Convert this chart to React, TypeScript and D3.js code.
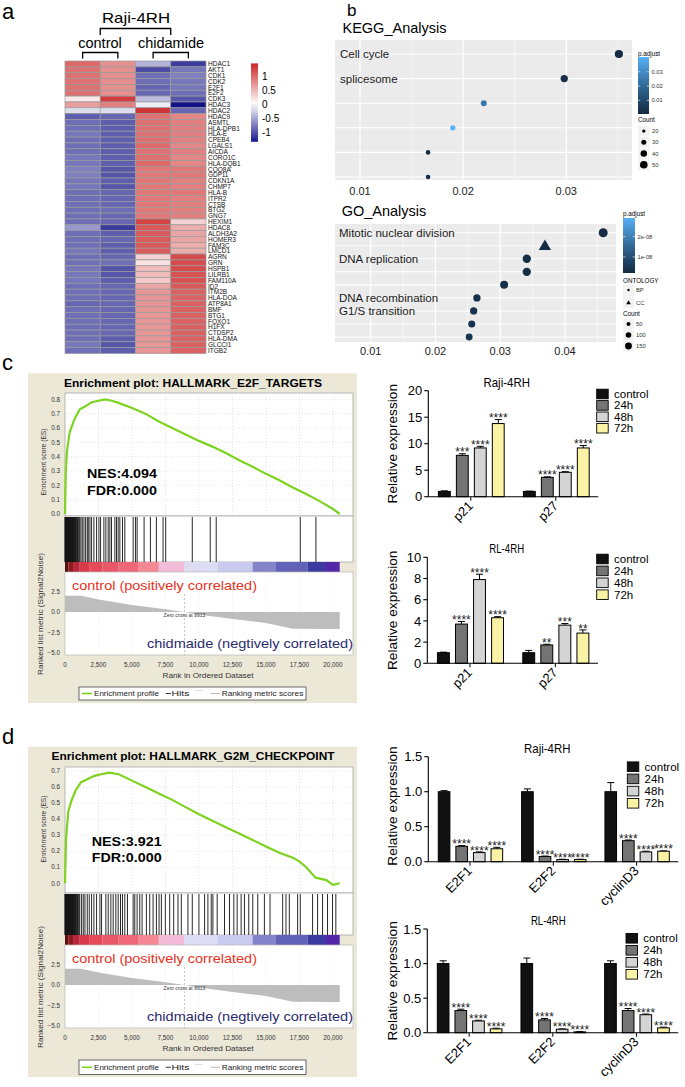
import * as d3 from "d3";

const FONT = "'Liberation Sans', Arial, Helvetica, sans-serif";
const W = 685;
const H = 1087;

// ---------- a: heatmap ----------
const genes = ["HDAC1","AKT1","CDK1","CDK2","E2F1","E2F2","CDK3","HDAC3","HDAC2","HDAC9","ASMTL","HLA-DPB1","HLA-E","CPEB4","LGALS1","AICDA","CORO1C","HLA-DQB1","COQ8A","GDF11","CDKN1A","CHMP7","HLA-B","ITPR2","CTSB","BTG2","GNG7","HEXIM1","HDAC8","ALDH3A2","HOMER3","FAM3C","LMCD1","AGRN","GRN","HSPB1","LILRB1","FAM110A","ID2","ITM2B","HLA-DOA","ATP8A1","BMF","BTG1","FOXO1","H1FX","CTDSP2","HLA-DMA","GLCCI1","ITGB2"];
const ctrl1 = [1.0,0.95,0.95,0.95,0.95,0.95,0.15,0.65,-0.2,-0.95,-0.85,-0.85,-0.8,-0.85,-0.85,-0.85,-0.8,-0.8,-0.75,-0.75,-0.8,-0.8,-0.85,-0.85,-0.85,-0.85,-0.85,-0.85,-0.6,-0.85,-0.85,-0.85,-0.8,-0.85,-0.85,-0.8,-0.8,-0.8,-0.85,-0.85,-0.85,-0.9,-0.85,-0.85,-0.85,-0.85,-0.85,-0.85,-0.8,-0.85];
const ctrl2 = [0.75,0.75,0.75,0.75,0.75,0.75,1.3,0.85,-0.2,-0.9,-0.95,-0.95,-0.95,-0.95,-0.95,-0.95,-0.95,-0.95,-1.0,-1.0,-0.95,-1.0,-0.9,-0.9,-0.9,-0.85,-0.9,-0.9,-1.15,-0.95,-0.9,-0.95,-0.95,-0.9,-0.85,-1.0,-1.0,-0.95,-0.9,-0.9,-0.9,-0.9,-0.9,-0.9,-0.9,-0.9,-0.9,-0.95,-1.0,-0.95];
const chid1 = [-0.45,-1.05,-0.85,-0.85,-0.9,-0.9,-0.4,-0.1,1.35,0.95,0.95,0.95,0.95,0.95,1.0,0.95,0.95,1.0,0.9,0.9,0.9,0.9,0.9,0.9,0.9,0.9,0.9,1.25,1.1,1.1,1.1,1.1,1.1,0.3,0.2,0.45,0.45,0.35,0.6,0.7,0.7,0.7,0.7,0.7,0.7,0.7,0.7,0.7,0.7,0.7];
const chid2 = [-1.15,-0.8,-0.75,-0.8,-0.8,-0.85,-1.0,-1.4,-0.9,0.8,0.85,0.85,0.85,0.85,0.8,0.85,0.8,0.8,0.9,0.9,0.85,0.85,0.9,0.85,0.85,0.85,0.85,0.3,0.55,0.6,0.6,0.55,0.55,1.2,1.2,1.2,1.15,1.15,1.1,1.05,1.05,1.05,1.05,1.05,1.05,1.05,1.05,1.05,1.05,1.05];
const heatTicks = [1, 0.5, 0, -0.5, -1];

// ---------- b: enrichment dot plots ----------
const keggTerms = ["Cell cycle", "splicesome", "", "", "", ""];
const keggRatio = [0.0351, 0.0298, 0.022, 0.019, 0.0166, 0.0166];
const keggPadj = [0.0005, 0.0022, 0.0245, 0.0403, 0.0009, 0.0009];
const keggCount = [55, 47, 36, 31, 27, 27];
const keggCountKeys = [20, 30, 40, 50];
const keggPadjTicks = [0.01, 0.02, 0.03];

const goTerms = ["Mitotic nuclear division", "", "DNA replication", "", "", "DNA recombination", "G1/S transition", "", ""];
const goOntology = ["BP", "CC", "BP", "BP", "BP", "BP", "BP", "BP", "BP"];
const goRatio = [0.0459, 0.0369, 0.0341, 0.0341, 0.0306, 0.0264, 0.0259, 0.0256, 0.0252];
const goPadj = [2.1e-9, 2.3e-9, 2.5e-9, 2.7e-9, 3e-9, 3.3e-9, 3.6e-9, 3.9e-9, 4.2e-9];
const goCount = [258, 200, 220, 220, 204, 170, 168, 160, 150];
const goCountKeys = [50, 100, 150];
const goPadjLimits = [2.1e-9, 2.92e-8];
const goPadjTicks = [1e-8, 2e-8];
const goPadjTickLabels = ["1e-08", "2e-08"];

// ---------- c/d: GSEA ----------
const gseaTicks = [0, 2500, 5000, 7500, 10000, 12500, 15000, 17500, 20000];
const metricTicks = [2.5, 0, -2.5, -5];
const esRankC = [0,60,150,350,700,1100,1500,2000,2500,3000,3500,4000,5000,6000,7000,8000,9000,10000,11000,12000,13000,14000,15000,16000,17000,18000,19000,20000,20500];
const esC = [0,0.3,0.44,0.57,0.66,0.73,0.75,0.78,0.79,0.8,0.79,0.775,0.74,0.7,0.645,0.6,0.555,0.51,0.47,0.425,0.375,0.33,0.28,0.235,0.185,0.14,0.09,0.035,0];
const esRankD = [0,80,250,500,800,1200,1700,2200,2700,3300,4000,5000,6000,7000,8000,9000,10000,11000,12000,13000,14000,15000,16000,17000,17500,18000,18700,19500,20000,20500];
const esD = [0,0.28,0.45,0.52,0.58,0.63,0.65,0.67,0.68,0.69,0.68,0.64,0.6,0.56,0.52,0.475,0.43,0.39,0.35,0.31,0.27,0.23,0.19,0.16,0.135,0.1,0.035,0.02,-0.01,0];
const hitsDense = [0,20,45,70,95,120,150,175,200,230,255,285,310,340,370,400,430,460,490,525,560,595,630,670,710,750,790,835,880,930,980,1040,1100];
const hitsC = [...hitsDense,1190,1290,1414,1538,1662,1736,1860,1984,2158,2356,2530,2654,2902,3050,3224,3348,3472,3720,3844,3968,4092,4290,4464,5084,5258,5382,5903,6374,6820,7316,7514,9498,10838,11284,17558,18724];
const hitsD = [...hitsDense,1240,1364,1488,1662,1810,1984,2158,2356,2604,2728,3050,3224,3422,3596,3794,3968,4142,4290,4464,4662,5084,5208,5382,5580,5754,6076,6324,6572,6820,7018,7192,7490,7812,8110,8432,8680,9176,9498,9994,10416,10664,10912,11036,11358,11904,12276,12598,12846,13144,13392,13714,14012,14384,14880,15302,16244,16492,16740,17360,17558,18476,18848,19220,19592,19964,20212];
const cbStops = [0,250,600,1100,1800,2800,4000,5500,7000,8900,11400,14000,15700,18100,19400,20500];
const cbColors = ["#5a0e0e","#8c1c1c","#b8283a","#d83a4c","#e44a5a","#e85868","#ee6878","#f48894","#f2bcd8","#dcdcf4","#cacaee","#8484cc","#6262b8","#3a3aa0","#5228a8"];
const metricRank = [0,1200,2500,5000,7500,8913,10000,12500,15000,17000,20500];
const metricVal = [2.0,2.0,1.55,0.85,0.35,0,-0.3,-0.85,-1.35,-2.05,-2.1];

// ---------- c/d: qPCR bars ----------
const timeLabels = ["control", "24h", "48h", "72h"];
const timeFill = ["#111111", "#747474", "#d4d4d4", "#faf3a6"];
const cGroups = ["p21", "p27"];
const rajiCMean = [[1.0, 7.8, 9.2, 13.8], [1.0, 3.65, 4.6, 9.2]];
const rajiCErr = [[0.1, 0.3, 0.3, 0.75], [0.05, 0.1, 0.12, 0.45]];
const rajiCStars = [["", "***", "****", "****"], ["", "****", "****", "****"]];
const rlCMean = [[1.0, 3.7, 7.9, 4.3], [1.0, 1.73, 3.6, 2.85]];
const rlCErr = [[0.05, 0.25, 0.5, 0.1], [0.22, 0.07, 0.15, 0.3]];
const rlCStars = [["", "****", "****", "****"], ["", "**", "***", "**"]];
const dGroups = ["E2F1", "E2F2", "cyclinD3"];
const rajiDMean = [[1.0, 0.22, 0.13, 0.185], [1.0, 0.075, 0.03, 0.03], [1.0, 0.3, 0.14, 0.15]];
const rajiDErr = [[0.015, 0.01, 0.01, 0.02], [0.04, 0.005, 0.005, 0.005], [0.13, 0.01, 0.01, 0.005]];
const rlDMean = [[1.0, 0.32, 0.17, 0.055], [1.0, 0.185, 0.05, 0.012], [1.0, 0.32, 0.26, 0.07]];
const rlDErr = [[0.04, 0.02, 0.01, 0.01], [0.08, 0.02, 0.005, 0.005], [0.04, 0.03, 0.01, 0.01]];
const dStars = [["", "****", "****", "****"], ["", "****", "****", "****"], ["", "****", "****", "****"]];

function Heatmap() {
  const cols = [ctrl1, ctrl2, chid1, chid2];
  const rowH = 5.85;
  const x = d3.scaleBand<number>().domain([0, 1, 2, 3]).range([65, 206]);
  const y = d3.scaleBand<string>().domain(genes).range([61, 61 + genes.length * rowH]);
  const color = d3.scaleLinear<string>().domain([-1.5, 0, 1.45]).range(["#000080", "#ffffff", "#cd2626"]);
  const ly = d3.scaleLinear().domain([-1, 1]).range([132, 76]);
  const legLo = -1.35, legHi = 1.45;
  const stops = d3.range(11).map((i) => legHi - (i / 10) * (legHi - legLo));
  const cx = (i: number) => (x(i) as number) + x.bandwidth() / 2;
  return (
    <g>
      <defs>
        <linearGradient id="hmGrad" x1="0" y1="0" x2="0" y2="1">
          {stops.map((v, i) => <stop key={i} offset={i / 10} stopColor={color(v)} />)}
        </linearGradient>
      </defs>
      <text x={136} y={22.5} textAnchor="middle" fontSize={14.5} textLength={68} lengthAdjust="spacingAndGlyphs">Raji-4RH</text>
      <path d={`M${cx(0) + 17.6},35 V28.5 H${cx(2) + 17.6} V35`} fill="none" stroke="#000" strokeWidth={1.3} />
      <text x={100} y={48.3} textAnchor="middle" fontSize={14.5}>control</text>
      <text x={171} y={48.3} textAnchor="middle" fontSize={14.5}>chidamide</text>
      <path d={`M${cx(0)},58.5 V52.5 H${cx(1)} V58.5`} fill="none" stroke="#000" strokeWidth={1.3} />
      <path d={`M${cx(2)},58.5 V52.5 H${cx(3)} V58.5`} fill="none" stroke="#000" strokeWidth={1.3} />
      {genes.map((g, gi) => (
        <g key={g}>
          {cols.map((c, ci) => (
            <rect key={ci} x={x(ci)} y={y(g)} width={x.bandwidth()} height={y.bandwidth()} fill={color(c[gi])} stroke="#9a9a9a" strokeWidth={0.7} />
          ))}
          <text x={208} y={(y(g) as number) + rowH / 2 + 2.3} fontSize={6.5} fill="#111">{g}</text>
        </g>
      ))}
      <rect x={251} y={ly(legHi)} width={7} height={ly(legLo) - ly(legHi)} fill="url(#hmGrad)" />
      {heatTicks.map((t) => (
        <text key={t} x={262} y={ly(t) + 3.5} fontSize={10}>{t}</text>
      ))}
    </g>
  );
}

function PadjBar({ id, x0, y0, w, h, lo, hi, col }: any) {
  const stops = d3.range(11).map((i) => hi - (i / 10) * (hi - lo));
  return (
    <g>
      <defs>
        <linearGradient id={id} x1="0" y1="0" x2="0" y2="1">
          {stops.map((v, i) => <stop key={i} offset={i / 10} stopColor={col(v)} />)}
        </linearGradient>
      </defs>
      <rect x={x0} y={y0} width={w} height={h} fill={`url(#${id})`} />
    </g>
  );
}

function KeggPanel() {
  const px0 = 335, px1 = 632, py0 = 40, py1 = 180;
  const x = d3.scaleLinear().domain([0.01, 0.03]).range([360, 566.3]);
  const y = d3.scalePoint<number>().domain(d3.range(keggTerms.length)).range([54, 177]);
  const ext = d3.extent(keggPadj) as [number, number];
  const col = d3.scaleLinear<string>().domain(ext).range(["#132B43", "#56B1F7"]).interpolate(d3.interpolateLab);
  const r = d3.scaleSqrt().domain([20, 55]).range([1.7, 4.1]);
  const by = d3.scaleLinear().domain(ext).range([114, 57]);
  const major = [0.01, 0.02, 0.03];
  const minor = [0.015, 0.025, 0.035];
  return (
    <g>
      <text x={342.5} y={32.5} fontSize={14.5}>KEGG_Analysis</text>
      <rect x={px0} y={py0} width={px1 - px0} height={py1 - py0} fill="#ebebeb" />
      {minor.map((m) => <line key={m} x1={x(m)} x2={x(m)} y1={py0} y2={py1} stroke="#fff" strokeWidth={0.5} />)}
      {major.map((m) => <line key={m} x1={x(m)} x2={x(m)} y1={py0} y2={py1} stroke="#fff" strokeWidth={1.1} />)}
      {keggTerms.map((_, i) => <line key={i} x1={px0} x2={px1} y1={y(i)} y2={y(i)} stroke="#fff" strokeWidth={1.1} />)}
      {keggTerms.map((t, i) => t && <text key={t} x={340} y={(y(i) as number) + 4} fontSize={11.5} fill="#1a1a1a">{t}</text>)}
      {keggRatio.map((v, i) => <circle key={i} cx={x(v)} cy={y(i)} r={r(keggCount[i])} fill={col(keggPadj[i])} />)}
      {major.map((m) => <text key={m} x={x(m)} y={194.5} textAnchor="middle" fontSize={11} fill="#222">{m}</text>)}
      <text x={638} y={55.5} fontSize={6.3}>p.adjust</text>
      <PadjBar id="keggBar" x0={638} y0={57} w={11} h={57} lo={ext[0]} hi={ext[1]} col={col} />
      {keggPadjTicks.map((t) => (
        <g key={t}>
          <line x1={638} x2={640.2} y1={by(t)} y2={by(t)} stroke="#fff" strokeWidth={0.6} />
          <line x1={646.8} x2={649} y1={by(t)} y2={by(t)} stroke="#fff" strokeWidth={0.6} />
          <text x={651.5} y={by(t) + 2.1} fontSize={5.8} fill="#333">{t}</text>
        </g>
      ))}
      <text x={638} y={122} fontSize={6.3}>Count</text>
      {keggCountKeys.map((k, i) => (
        <g key={k}>
          <rect x={638} y={125.5 + i * 11.2} width={11.5} height={11.2} fill="#f2f2f2" stroke="#fff" strokeWidth={0.5} />
          <circle cx={643.8} cy={131.1 + i * 11.2} r={r(k)} fill="#000" />
          <text x={652} y={133.2 + i * 11.2} fontSize={5.8} fill="#333">{k}</text>
        </g>
      ))}
    </g>
  );
}

function GoPanel() {
  const px0 = 335, px1 = 616, py0 = 224, py1 = 342;
  const x = d3.scaleLinear().domain([0.01, 0.04]).range([370.7, 565]);
  const y = d3.scalePoint<number>().domain(d3.range(goTerms.length)).range([232.7, 337]);
  const col = d3.scaleLinear<string>().domain(goPadjLimits).range(["#132B43", "#56B1F7"]).interpolate(d3.interpolateLab);
  const r = d3.scaleSqrt().domain([0, 270]).range([0, 4.6]);
  const by = d3.scaleLinear().domain(goPadjLimits).range([273, 218]);
  const major = [0.01, 0.02, 0.03, 0.04];
  const minor = [0.015, 0.025, 0.035, 0.045];
  const tri = (cnt: number) => d3.symbol().type(d3.symbolTriangle).size(4.2 * r(cnt) * r(cnt))();
  return (
    <g>
      <text x={341.7} y={216} fontSize={14.5}>GO_Analysis</text>
      <rect x={px0} y={py0} width={px1 - px0} height={py1 - py0} fill="#ebebeb" />
      {minor.map((m) => <line key={m} x1={x(m)} x2={x(m)} y1={py0} y2={py1} stroke="#fff" strokeWidth={0.5} />)}
      {major.map((m) => <line key={m} x1={x(m)} x2={x(m)} y1={py0} y2={py1} stroke="#fff" strokeWidth={1.1} />)}
      {goTerms.map((_, i) => <line key={i} x1={px0} x2={px1} y1={y(i)} y2={y(i)} stroke="#fff" strokeWidth={1.1} />)}
      {goTerms.map((t, i) => t && <text key={t} x={339} y={(y(i) as number) + 4} fontSize={11.5} fill="#1a1a1a">{t}</text>)}
      {goRatio.map((v, i) =>
        goOntology[i] === "CC" ? (
          <path key={i} d={tri(goCount[i]) as string} transform={`translate(${x(v)},${(y(i) as number) + 0.8})`} fill={col(goPadj[i])} />
        ) : (
          <circle key={i} cx={x(v)} cy={y(i)} r={r(goCount[i])} fill={col(goPadj[i])} />
        )
      )}
      {major.map((m) => <text key={m} x={x(m)} y={355} textAnchor="middle" fontSize={11} fill="#222">{m}</text>)}
      <text x={623} y={215.5} fontSize={6.3}>p.adjust</text>
      <PadjBar id="goBar" x0={623} y0={218} w={12} h={55} lo={goPadjLimits[0]} hi={goPadjLimits[1]} col={col} />
      {goPadjTicks.map((t, i) => (
        <g key={t}>
          <line x1={623} x2={625.4} y1={by(t)} y2={by(t)} stroke="#fff" strokeWidth={0.6} />
          <line x1={632.6} x2={635} y1={by(t)} y2={by(t)} stroke="#fff" strokeWidth={0.6} />
          <text x={637.5} y={by(t) + 2.1} fontSize={5.8} fill="#333">{goPadjTickLabels[i]}</text>
        </g>
      ))}
      <text x={623} y={282.5} fontSize={6.3}>ONTOLOGY</text>
      <rect x={623} y={284.5} width={11} height={11.5} fill="#f2f2f2" />
      <circle cx={628.5} cy={290} r={1.2} fill="#000" />
      <text x={636} y={292.2} fontSize={5.8} fill="#333">BP</text>
      <rect x={623} y={296.5} width={11} height={11.5} fill="#f2f2f2" />
      <path d={d3.symbol().type(d3.symbolTriangle).size(9)() as string} transform="translate(628.5,302.9)" fill="#000" />
      <text x={636} y={304.9} fontSize={5.8} fill="#333">CC</text>
      <text x={623} y={315.5} fontSize={6.3}>Count</text>
      {goCountKeys.map((k, i) => (
        <g key={k}>
          <rect x={623} y={318.5 + i * 11} width={11} height={11} fill="#f2f2f2" stroke="#fff" strokeWidth={0.5} />
          <circle cx={628.5} cy={324 + i * 11} r={r(k)} fill="#000" />
          <text x={636} y={326.2 + i * 11} fontSize={5.8} fill="#333">{k}</text>
        </g>
      ))}
    </g>
  );
}

function Gsea({ P, title, titleLen, esRank, esVal, hits, nes, fdr }: any) {
  const X0 = 65, X1 = 353;
  const x = d3.scaleLinear().domain([0, 20000]).range([65, 333]);
  const yEs = d3.scaleLinear().domain([0, P.esRef]).range([P.esZero, P.esRefY]);
  const mTop = P.cbBot;
  const yM = d3.scaleLinear().domain([-5, 2.5]).range([mTop + 80.7, mTop + 19.7]);
  const esPts = esRank.map((r: number, i: number) => [r, esVal[i]] as [number, number]);
  const mPts = metricRank.map((r, i) => [r, metricVal[i]] as [number, number]);
  const line = d3.line<[number, number]>().x((d) => x(d[0])).y((d) => yEs(d[1]));
  const area = d3.area<[number, number]>().x((d) => x(d[0])).y0(yM(0)).y1((d) => yM(d[1]));
  const esTicks = d3.range(0, P.esRef + 0.001, 0.1);
  const f1 = d3.format(".1f");
  const fc = d3.format(",");
  const lyc = (P.legTop + P.legBot) / 2;
  const green = "#7ed321";
  return (
    <g>
      <rect x={28} y={P.boxTop} width={329} height={P.boxBot - P.boxTop} fill="#ebe8d8" />
      <text x={193} y={P.titleY} textAnchor="middle" fontSize={11} fontWeight="bold" textLength={titleLen} lengthAdjust="spacingAndGlyphs">{title}</text>
      {/* ES plot */}
      <rect x={X0} y={P.esTop} width={X1 - X0} height={P.esBot - P.esTop} fill="#fff" stroke="#a8a8a8" strokeWidth={0.8} />
      {gseaTicks.slice(1).map((t) => <line key={t} x1={x(t)} x2={x(t)} y1={P.esTop} y2={P.esBot} stroke="#d0d0d0" strokeWidth={0.6} strokeDasharray="1,2" />)}
      {esTicks.slice(1).map((t) => <line key={t} x1={X0} x2={X1} y1={yEs(t)} y2={yEs(t)} stroke="#d0d0d0" strokeWidth={0.6} strokeDasharray="1,2" />)}
      {esTicks.map((t) => <text key={t} x={60} y={yEs(t) + 2.2} textAnchor="end" fontSize={6.3} fill="#333">{f1(t)}</text>)}
      <path d={line(esPts) as string} fill="none" stroke={green} strokeWidth={2.2} />
      <text transform={`translate(45.5,${P.esLabelY}) rotate(-90)`} textAnchor="middle" fontSize={7} fill="#333" textLength={67} lengthAdjust="spacingAndGlyphs">Enrichment score (ES)</text>
      <text x={P.nesX} y={P.nesY} fontSize={13} fontWeight="bold" textLength={70} lengthAdjust="spacingAndGlyphs">{nes}</text>
      <text x={P.nesX} y={P.fdrY} fontSize={13} fontWeight="bold" textLength={70} lengthAdjust="spacingAndGlyphs">{fdr}</text>
      {/* hits */}
      <rect x={X0} y={P.esBot} width={X1 - X0} height={P.hitsBot - P.esBot} fill="#fff" stroke="#a8a8a8" strokeWidth={0.8} />
      {hits.map((h: number, i: number) => <line key={i} x1={x(h)} x2={x(h)} y1={P.esBot + 1} y2={P.hitsBot} stroke="#111" strokeWidth={0.9} />)}
      {cbColors.map((c, i) => (
        <rect key={i} x={x(cbStops[i])} y={P.hitsBot} width={x(cbStops[i + 1]) - x(cbStops[i])} height={P.cbBot - P.hitsBot} fill={c} />
      ))}
      {/* ranked metric */}
      <rect x={X0} y={mTop} width={X1 - X0} height={P.mBot - mTop} fill="#fff" stroke="#b8b8b8" strokeWidth={0.7} />
      {gseaTicks.slice(1).map((t) => <line key={t} x1={x(t)} x2={x(t)} y1={mTop} y2={P.mBot} stroke="#e2e2e2" strokeWidth={0.6} strokeDasharray="1,2" />)}
      <path d={area(mPts) as string} fill="#bdbdbd" />
      <line x1={x(8913)} x2={x(8913)} y1={yM(2.2)} y2={P.mBot} stroke="#999" strokeWidth={0.6} strokeDasharray="2,2" />
      <text x={x(8913)} y={yM(0) + 4.5} textAnchor="middle" fontSize={5} fill="#333">Zero cross at 8913</text>
      {metricTicks.map((t) => <text key={t} x={60} y={yM(t) + 2.2} textAnchor="end" fontSize={6.3} fill="#333">{f1(t)}</text>)}
      <text x={72} y={mTop + 17.5} fontSize={13} fill="#e8321e" textLength={185} lengthAdjust="spacingAndGlyphs">control (positively correlated)</text>
      <text x={147} y={mTop + 75.5} fontSize={13} fill="#2b2b6e" textLength={206} lengthAdjust="spacingAndGlyphs">chidmaide (negtively correlated)</text>
      <text transform={`translate(42.5,${mTop + 42}) rotate(-90)`} textAnchor="middle" fontSize={7} fill="#333" textLength={122} lengthAdjust="spacingAndGlyphs">Ranked list metric (Signal2Noise)</text>
      {gseaTicks.map((t) => <text key={t} x={x(t)} y={P.tickY} textAnchor="middle" fontSize={6.3} fill="#333">{fc(t)}</text>)}
      <text x={208} y={P.axTitleY} textAnchor="middle" fontSize={7.5} fill="#333" textLength={91} lengthAdjust="spacingAndGlyphs">Rank in Ordered Dataset</text>
      {/* legend */}
      <rect x={79} y={P.legTop} width={227} height={P.legBot - P.legTop} fill="#fff" stroke="#444" strokeWidth={0.8} />
      <line x1={82} x2={92} y1={lyc} y2={lyc} stroke={green} strokeWidth={1.6} />
      <text x={94} y={lyc + 2.3} fontSize={6.5} fill="#222" textLength={65} lengthAdjust="spacingAndGlyphs">Enrichment profile</text>
      <line x1={165.7} x2={171} y1={lyc} y2={lyc} stroke="#222" strokeWidth={0.9} />
      <text x={171.5} y={lyc + 2.3} fontSize={6.5} fill="#222" textLength={18} lengthAdjust="spacingAndGlyphs">Hits</text>
      <line x1={195} x2={202.7} y1={lyc - 3} y2={lyc - 3} stroke="#d8d8d8" strokeWidth={1} />
      <line x1={210.7} x2={220} y1={lyc} y2={lyc} stroke="#b8b8b8" strokeWidth={1} />
      <text x={221.7} y={lyc + 2.3} fontSize={6.5} fill="#222" textLength={81.6} lengthAdjust="spacingAndGlyphs">Ranking metric scores</text>
    </g>
  );
}

function BarChart({ L, title, groups, means, errs, stars, yMax, step, fmt }: any) {
  const y = d3.scaleLinear().domain([0, yMax]).range([L.y0, L.y1]);
  const gx = d3.scaleBand<string>().domain(groups).range([L.ax, L.x1]);
  const bx = d3.scaleBand<string>().domain(timeLabels).range([4, gx.bandwidth() - 3]).paddingInner(0.34).paddingOuter(0.34);
  const ticks = d3.range(0, yMax + step / 100, step);
  const bw = bx.bandwidth();
  return (
    <g>
      <text x={L.tx} y={L.ty} textAnchor="middle" fontSize={13} textLength={title.length * 5.8} lengthAdjust="spacingAndGlyphs">{title}</text>
      {groups.map((g: string, gi: number) => (
        <g key={g} transform={`translate(${gx(g)},0)`}>
          {timeLabels.map((t, ti) => {
            const m = means[gi][ti], e = errs[gi][ti];
            const b0 = bx(t) as number;
            const cx = b0 + bw / 2;
            const s = stars[gi][ti];
            return (
              <g key={t}>
                <line x1={cx} x2={cx} y1={y(m)} y2={y(m + e)} stroke="#000" strokeWidth={1} />
                <line x1={cx - 3.5} x2={cx + 3.5} y1={y(m + e)} y2={y(m + e)} stroke="#000" strokeWidth={1} />
                <rect x={b0} y={y(m)} width={bw} height={y(0) - y(m)} fill={timeFill[ti]} stroke="#000" strokeWidth={1} />
                {s && <text x={cx} y={y(m + e) + 2.6} textAnchor="middle" fontSize={12} fill="#222">{s}</text>}
              </g>
            );
          })}
          <line x1={gx.bandwidth() / 2} x2={gx.bandwidth() / 2} y1={L.y0} y2={L.y0 + 4} stroke="#000" />
          <text transform={`translate(${gx.bandwidth() / 2 + 3},${L.y0 + 10}) rotate(-45)`} textAnchor="end" fontSize={13}>{g}</text>
        </g>
      ))}
      <line x1={L.ax} x2={L.ax} y1={L.y0} y2={L.y1} stroke="#000" strokeWidth={1.1} />
      <line x1={L.ax} x2={L.x1} y1={L.y0} y2={L.y0} stroke="#000" strokeWidth={1.1} />
      {ticks.map((t: number) => (
        <g key={t}>
          <line x1={L.ax - 4} x2={L.ax} y1={y(t)} y2={y(t)} stroke="#000" strokeWidth={1.1} />
          <text x={L.ax - 6} y={y(t) + 4.6} textAnchor="end" fontSize={13}>{fmt(t)}</text>
        </g>
      ))}
      <text transform={`translate(396.5,${L.ylabY}) rotate(-90)`} textAnchor="middle" fontSize={13.7}>Relative expression</text>
      {timeLabels.map((t, i) => (
        <g key={t}>
          <rect x={L.lx} y={L.ly + i * L.ls - 4.8} width={11.5} height={9.6} fill={timeFill[i]} stroke="#000" strokeWidth={0.9} />
          <text x={L.lx + 17.3} y={L.ly + i * L.ls + 4} fontSize={11.5}>{t}</text>
        </g>
      ))}
    </g>
  );
}

const gseaC = { boxTop: 373.3, boxBot: 703, titleY: 386.5, esTop: 393, esBot: 516, esZero: 514, esRef: 0.8, esRefY: 399.3, hitsBot: 562, cbBot: 572, mBot: 655, tickY: 666.5, axTitleY: 678, legTop: 687, legBot: 700, esLabelY: 462, nesX: 87, nesY: 478, fdrY: 495 };
const gseaD = { boxTop: 746.7, boxBot: 1077, titleY: 760, esTop: 767, esBot: 893, esZero: 883.3, esRef: 0.7, esRefY: 771, hitsBot: 935, cbBot: 945, mBot: 1028, tickY: 1039.5, axTitleY: 1051, legTop: 1060, legBot: 1074.5, esLabelY: 829, nesX: 91.7, nesY: 845.5, fdrY: 862 };

export default function App() {
  const fInt = d3.format("d");
  const f1 = d3.format(".1f");
  return (
    <svg width={W} height={H} viewBox={`0 0 ${W} ${H}`} fontFamily={FONT} style={{ position: "absolute", left: 0, top: 0, display: "block" }}>
      <rect width={W} height={H} fill="#fff" />
      <text x={2} y={18.5} fontSize={22}>a</text>
      <text x={347} y={15.8} fontSize={17}>b</text>
      <text x={2} y={370} fontSize={22}>c</text>
      <text x={2} y={743.5} fontSize={22}>d</text>
      <Heatmap />
      <KeggPanel />
      <GoPanel />
      <Gsea P={gseaC} title="Enrichment plot: HALLMARK_E2F_TARGETS" titleLen={258} esRank={esRankC} esVal={esC} hits={hitsC} nes="NES:4.094" fdr="FDR:0.000" />
      <Gsea P={gseaD} title="Enrichment plot: HALLMARK_G2M_CHECKPOINT" titleLen={283} esRank={esRankD} esVal={esD} hits={hitsD} nes="NES:3.921" fdr="FDR:0.000" />
      <BarChart L={{ ax: 428.3, x1: 598.3, y0: 496.7, y1: 390.7, tx: 506.7, ty: 386.7, lx: 596.7, ly: 394, ls: 11.4, ylabY: 443.7 }} title="Raji-4RH" groups={cGroups} means={rajiCMean} errs={rajiCErr} stars={rajiCStars} yMax={20} step={5} fmt={fInt} />
      <BarChart L={{ ax: 427.3, x1: 598, y0: 663.3, y1: 557.3, tx: 506.7, ty: 553.3, lx: 596.7, ly: 559, ls: 11.9, ylabY: 610.3 }} title="RL-4RH" groups={cGroups} means={rlCMean} errs={rlCErr} stars={rlCStars} yMax={10} step={2} fmt={fInt} />
      <BarChart L={{ ax: 428.3, x1: 678.3, y0: 861.7, y1: 756.7, tx: 547.3, ty: 752.7, lx: 627.3, ly: 766.7, ls: 12.2, ylabY: 806 }} title="Raji-4RH" groups={dGroups} means={rajiDMean} errs={rajiDErr} stars={dStars} yMax={1.5} step={0.5} fmt={f1} />
      <BarChart L={{ ax: 427.3, x1: 678.3, y0: 1032.7, y1: 929, tx: 548.3, ty: 925, lx: 626, ly: 938.3, ls: 12, ylabY: 980.9 }} title="RL-4RH" groups={dGroups} means={rlDMean} errs={rlDErr} stars={dStars} yMax={1.5} step={0.5} fmt={f1} />
    </svg>
  );
}
